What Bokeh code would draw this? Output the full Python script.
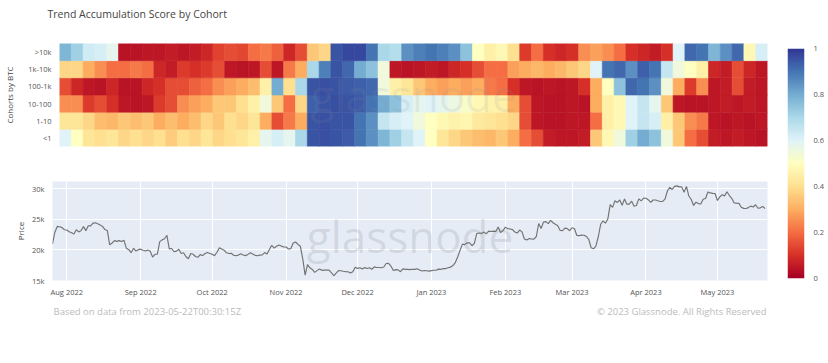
import numpy as np
import pandas as pd
from bokeh.plotting import figure
from bokeh.layouts import row, column, Spacer
from bokeh.models import (Range1d, LinearColorMapper, FixedTicker, MonthsTicker,
                          DatetimeTickFormatter, NumeralTickFormatter, ColumnDataSource)
from bokeh.core.properties import value
from bokeh.embed import file_html
from bokeh.resources import INLINE

TITLE = "Trend Accumulation Score by Cohort"
FOOT_LEFT = "Based on data from 2023-05-22T00:30:15Z"
FOOT_RIGHT = "© 2023 Glassnode. All Rights Reserved"
WATERMARK = "glassnode"

# cohorts bottom -> top
cohorts = ["<1", "1-10", "10-100", "100-1k", "1k-10k", ">10k"]

# accumulation score, 5-day blocks starting 2022-07-26
score_lt1 = [0.6, 0.5, 0.42, 0.4, 0.42, 0.38, 0.4, 0.38, 0.4, 0.36,
             0.4, 0.38, 0.42, 0.38, 0.4, 0.42, 0.45, 0.58, 0.62, 0.58,
             0.7, 0.95, 0.96, 0.95, 0.94, 0.9, 0.85, 0.78, 0.72, 0.65,
             0.6, 0.5, 0.42, 0.38, 0.35, 0.33, 0.32, 0.35, 0.3, 0.2,
             0.15, 0.06, 0.05, 0.05, 0.06, 0.35, 0.48, 0.55, 0.72, 0.8,
             0.75, 0.55, 0.35, 0.2, 0.15, 0.06, 0.05, 0.06, 0.05, 0.04]
score_1_10 = [0.42, 0.42, 0.38, 0.33, 0.32, 0.35, 0.33, 0.35, 0.3, 0.33,
              0.3, 0.33, 0.38, 0.35, 0.4, 0.38, 0.42, 0.3, 0.15, 0.22,
              0.3, 0.95, 0.96, 0.95, 0.95, 0.9, 0.85, 0.65, 0.62, 0.6,
              0.55, 0.5, 0.48, 0.46, 0.47, 0.43, 0.42, 0.4, 0.38, 0.15,
              0.05, 0.04, 0.04, 0.05, 0.05, 0.2, 0.45, 0.48, 0.6, 0.65,
              0.62, 0.45, 0.35, 0.25, 0.22, 0.05, 0.04, 0.05, 0.04, 0.05]
score_10_100 = [0.25, 0.25, 0.12, 0.15, 0.1, 0.05, 0.04, 0.05, 0.12, 0.15,
                0.25, 0.28, 0.3, 0.35, 0.35, 0.4, 0.45, 0.55, 0.35, 0.2,
                0.38, 0.93, 0.95, 0.96, 0.95, 0.94, 0.9, 0.8, 0.75, 0.62,
                0.58, 0.6, 0.58, 0.56, 0.52, 0.48, 0.46, 0.45, 0.3, 0.15,
                0.05, 0.04, 0.04, 0.05, 0.04, 0.3, 0.45, 0.48, 0.6, 0.65,
                0.58, 0.35, 0.05, 0.04, 0.04, 0.05, 0.06, 0.05, 0.06, 0.05]
score_100_1k = [0.15, 0.08, 0.05, 0.04, 0.08, 0.04, 0.04, 0.08, 0.1, 0.15,
                0.15, 0.18, 0.2, 0.25, 0.28, 0.3, 0.33, 0.45, 0.8, 0.4,
                0.7, 0.95, 0.96, 0.95, 0.94, 0.93, 0.92, 0.55, 0.45, 0.42,
                0.35, 0.3, 0.28, 0.3, 0.28, 0.3, 0.22, 0.2, 0.1, 0.05,
                0.04, 0.05, 0.04, 0.05, 0.1, 0.3, 0.5, 0.75, 0.92, 0.9,
                0.85, 0.55, 0.3, 0.12, 0.25, 0.05, 0.06, 0.15, 0.06, 0.05]
score_1k_10k = [0.38, 0.38, 0.3, 0.25, 0.2, 0.2, 0.22, 0.2, 0.08, 0.06,
                0.12, 0.1, 0.12, 0.15, 0.05, 0.04, 0.05, 0.15, 0.05, 0.22,
                0.3, 0.7, 0.88, 0.95, 0.92, 0.8, 0.75, 0.55, 0.05, 0.04,
                0.05, 0.06, 0.05, 0.08, 0.1, 0.15, 0.2, 0.2, 0.28, 0.3,
                0.32, 0.3, 0.32, 0.35, 0.38, 0.6, 0.9, 0.92, 0.85, 0.93,
                0.9, 0.65, 0.55, 0.5, 0.45, 0.08, 0.06, 0.15, 0.08, 0.05]
score_gt10k = [0.78, 0.72, 0.63, 0.62, 0.58, 0.04, 0.04, 0.05, 0.05, 0.06,
               0.05, 0.06, 0.08, 0.13, 0.15, 0.14, 0.2, 0.22, 0.18, 0.08,
               0.15, 0.35, 0.38, 0.95, 0.97, 0.97, 0.9, 0.7, 0.68, 0.85,
               0.88, 0.9, 0.88, 0.85, 0.75, 0.5, 0.45, 0.48, 0.4, 0.12,
               0.2, 0.1, 0.08, 0.1, 0.25, 0.28, 0.25, 0.2, 0.1, 0.08,
               0.06, 0.1, 0.6, 0.92, 0.9, 0.78, 0.85, 0.92, 0.48, 0.62]
scores = [score_lt1, score_1_10, score_10_100, score_100_1k, score_1k_10k, score_gt10k]

# daily BTC price, 2022-07-26 .. 2023-05-21
price_jul = [21000, 22900, 23850, 23800, 23650, 23300]
price_aug = [23270, 22980, 22820, 22620, 23310, 22950, 23180, 23810, 23160, 23950,
             23950, 24400, 24440, 24300, 24100, 23850, 23340, 23190, 20830, 21140,
             21520, 21400, 21530, 21370, 21570, 20260, 20040, 19550, 20280, 19810, 20050]
price_sep = [20130, 19950, 19830, 20000, 19800, 18840, 19290, 19320, 21360, 21650,
             21830, 22400, 20180, 20240, 19700, 19800, 20110, 19420, 19540, 18880,
             18550, 19410, 19300, 18930, 18800, 19230, 19080, 19410, 19590, 19420]
price_oct = [19310, 19060, 19630, 20340, 20160, 19960, 19530, 19420, 19450, 19130,
             19060, 19160, 19380, 19180, 19070, 19270, 19550, 19330, 19120, 19040,
             19160, 19200, 19570, 19330, 20080, 20770, 20290, 20600, 20810, 20630, 20490]
price_nov = [20480, 20160, 20210, 21150, 21300, 20900, 20600, 18540, 15880, 17590,
             17070, 16810, 16330, 16620, 16900, 16660, 16690, 16700, 16700, 16280,
             15780, 16190, 16610, 16600, 16520, 16460, 16440, 16220, 16440, 17170]
price_dec = [16980, 17090, 16890, 17110, 16970, 17090, 16840, 17220, 17130, 17130,
             17090, 17210, 17780, 17810, 17360, 16630, 16780, 16740, 16440, 16900,
             16820, 16830, 16780, 16840, 16830, 16920, 16710, 16550, 16630, 16600, 16540]
price_jan = [16620, 16680, 16680, 16860, 16830, 16950, 16950, 17090, 17180, 17440,
             17940, 18850, 19930, 20950, 20870, 21170, 21160, 20690, 21080, 22680,
             22780, 22710, 22920, 22640, 23070, 23010, 23080, 23030, 23770, 22850, 23140]
price_feb = [23730, 23490, 23430, 23330, 22940, 22760, 23260, 22950, 21800, 21630,
             21860, 21790, 21780, 22200, 24330, 23520, 24570, 24630, 24300, 24840,
             24450, 24190, 23950, 23190, 23160, 23560, 23490, 23150]
price_mar = [23630, 23470, 22360, 22350, 22430, 22410, 22200, 21720, 20360, 20190,
             20630, 22160, 24200, 24750, 24380, 25050, 27420, 26970, 28040, 27770,
             28170, 27300, 28330, 27490, 27490, 27990, 27140, 27270, 28350, 28030, 28480]
price_apr = [28460, 28200, 27800, 28170, 28180, 28040, 27920, 27950, 28330, 29650,
             30230, 29890, 30400, 30480, 30320, 30320, 29440, 30400, 28820, 28250,
             27280, 27820, 27590, 27520, 28300, 28420, 29470, 29340, 29250, 29230]
price_may = [28090, 28680, 29030, 28850, 29530, 28900, 28450, 27690, 27650, 27620,
             26990, 26800, 26780, 26930, 27170, 27030, 27400, 26830, 26890, 27120, 26750]
price = (price_jul + price_aug + price_sep + price_oct + price_nov + price_dec +
         price_jan + price_feb + price_mar + price_apr + price_may)

price_ticks = [15000, 20000, 25000, 30000]
cbar_ticks = [0, 0.2, 0.4, 0.6, 0.8, 1]
cbar_labels = ["0", "0.2", "0.4", "0.6", "0.8", "1"]

FONT = "Open Sans"
GRAY = "#555555"

# RdYlBu colour scale (0 red -> 1 blue)
rdylbu = ["#a50026", "#d73027", "#f46d43", "#fdae61", "#fee090", "#ffffbf",
          "#e0f3f8", "#abd9e9", "#74add1", "#4575b4", "#313695"]


def interp_palette(colors, n=256):
    rgb = np.array([[int(c[i:i + 2], 16) for i in (1, 3, 5)] for c in colors], float)
    pos = np.linspace(0, 1, len(colors))
    t = np.linspace(0, 1, n)
    out = []
    for tt in t:
        r, g, b = (np.interp(tt, pos, rgb[:, k]) for k in range(3))
        out.append("#%02x%02x%02x" % (int(round(r)), int(round(g)), int(round(b))))
    return out


mapper = LinearColorMapper(palette=interp_palette(rdylbu), low=0, high=1)


def style_axis(ax, size="7.5px"):
    ax.axis_line_color = None
    ax.major_tick_line_color = None
    ax.minor_tick_line_color = None
    ax.major_label_text_font = FONT
    ax.major_label_text_font_size = size
    ax.major_label_text_color = GRAY
    ax.axis_label_text_font = FONT
    ax.axis_label_text_font_size = "8px"
    ax.axis_label_text_font_style = "normal"
    ax.axis_label_text_color = "#444444"
    ax.major_label_standoff = 2


MAIN_W = 770
LEFT = 52
common = dict(output_backend="svg", toolbar_location=None, outline_line_color=None,
              frame_align=False)

# ---------- title ----------
TITLE_H = 28
title_fig = figure(width=MAIN_W, height=TITLE_H, x_range=Range1d(0, MAIN_W), y_range=Range1d(0, TITLE_H),
                   min_border=0, x_axis_location=None, y_axis_location=None, **common)
title_fig.grid.grid_line_color = None
title_fig.text(x=[47], y=[TITLE_H - 13.5], text=[TITLE], text_font=value(FONT), text_font_size="10.5px",
               text_color="#444444", text_align="left", text_baseline="alphabetic")

# ---------- heatmap ----------
x_range = Range1d(start=pd.Timestamp("2022-07-26"), end=pd.Timestamp("2023-05-22"))
block_start = pd.date_range("2022-07-26", periods=len(score_lt1), freq="5D")
block_center = (block_start + pd.Timedelta(hours=60)).values
hx = np.tile(block_center, len(cohorts))
hy = np.repeat(np.arange(len(cohorts)) + 0.5, len(score_lt1))
hv = np.concatenate([np.array(s, float) for s in scores])
hsrc = ColumnDataSource(dict(x=hx, y=hy, v=hv))

HEAT_H = 128
heat = figure(width=MAIN_W, height=HEAT_H, x_range=x_range, y_range=Range1d(0, len(cohorts)),
              x_axis_type="datetime", x_axis_location=None,
              min_border_left=LEFT, min_border_right=3,
              min_border_top=15, min_border_bottom=10, **common)
heat.grid.grid_line_color = None
heat.rect(x="x", y="y", width=5 * 86400000, height=1, source=hsrc,
          fill_color={"field": "v", "transform": mapper},
          line_color={"field": "v", "transform": mapper}, line_width=0.6)
heat.text(x=[np.datetime64("2022-12-23")], y=[3.0], text=[WATERMARK], text_font=value(FONT),
          text_font_size="44px", text_color="#8a9099", text_alpha=0.12,
          text_align="center", text_baseline="middle")
style_axis(heat.yaxis[0])
heat.yaxis[0].ticker = FixedTicker(ticks=[i + 0.5 for i in range(len(cohorts))])
heat.yaxis[0].major_label_overrides = {i + 0.5: c for i, c in enumerate(cohorts)}
heat.yaxis[0].axis_label = "Cohorts by BTC"
heat.yaxis[0].axis_label_standoff = 10

# ---------- price ----------
PRICE_H = 143
dates = pd.date_range("2022-07-26", periods=len(price), freq="D").values
psrc = ColumnDataSource(dict(x=dates, y=price))
pfig = figure(width=MAIN_W, height=PRICE_H, x_range=x_range, y_range=Range1d(15000, 31200),
              x_axis_type="datetime",
              min_border_left=LEFT, min_border_right=3, min_border_top=25, min_border_bottom=16,
              background_fill_color="#e5ecf6", **common)
pfig.text(x=[np.datetime64("2022-12-23")], y=[22300], text=[WATERMARK], text_font=value(FONT),
          text_font_size="44px", text_color="#8a9099", text_alpha=0.22,
          text_align="center", text_baseline="middle")
pfig.line(x="x", y="y", source=psrc, line_color="#727272", line_width=1.15)
mt = MonthsTicker(months=list(range(12)))
pfig.xaxis[0].ticker = mt
pfig.xgrid[0].ticker = mt
pfig.xaxis[0].formatter = DatetimeTickFormatter(months="%b %Y", days="%b %Y")
yt = FixedTicker(ticks=price_ticks)
pfig.yaxis[0].ticker = yt
pfig.ygrid[0].ticker = yt
pfig.yaxis[0].formatter = NumeralTickFormatter(format="0a")
pfig.grid.grid_line_color = "white"
pfig.grid.grid_line_width = 1
style_axis(pfig.xaxis[0])
style_axis(pfig.yaxis[0])
pfig.xaxis[0].major_label_standoff = 0
pfig.yaxis[0].axis_label = "Price"
pfig.yaxis[0].axis_label_standoff = 3

# ---------- footer ----------
FOOT_H = 22
foot = figure(width=MAIN_W, height=FOOT_H, x_range=Range1d(0, MAIN_W), y_range=Range1d(0, FOOT_H),
              min_border=0, x_axis_location=None, y_axis_location=None, **common)
foot.grid.grid_line_color = None
foot.text(x=[53], y=[10.5], text=[FOOT_LEFT], text_font=value(FONT), text_font_size="9.5px",
          text_color="#bbbbbb", text_align="left", text_baseline="alphabetic")
foot.text(x=[766], y=[10.5], text=[FOOT_RIGHT], text_font=value(FONT), text_font_size="9.5px",
          text_color="#bbbbbb", text_align="right", text_baseline="alphabetic")

# ---------- colour bar ----------
CB_TOP = 48
CB_H = 230
CB_PAD = 8
cb = figure(width=58, height=CB_H + 2 * CB_PAD, x_range=Range1d(0, 1), y_range=Range1d(0, 1),
            x_axis_location=None, y_axis_location="right",
            min_border_left=17, min_border_right=24,
            min_border_top=CB_PAD, min_border_bottom=CB_PAD, **common)
cb.grid.grid_line_color = None
grad = np.linspace(0, 1, 256).reshape(256, 1)
cb.image(image=[grad], x=0, y=0, dw=1, dh=1, color_mapper=mapper)
style_axis(cb.yaxis[0])
cb.yaxis[0].ticker = FixedTicker(ticks=cbar_ticks)
cb.yaxis[0].major_label_overrides = dict(zip(cbar_ticks, cbar_labels))
cb.yaxis[0].major_label_standoff = 3

layout = row(column(title_fig, heat, pfig, foot),
             column(Spacer(width=58, height=CB_TOP - CB_PAD), cb))

with open("out.html", "w") as f:
    f.write(file_html(layout, INLINE))
